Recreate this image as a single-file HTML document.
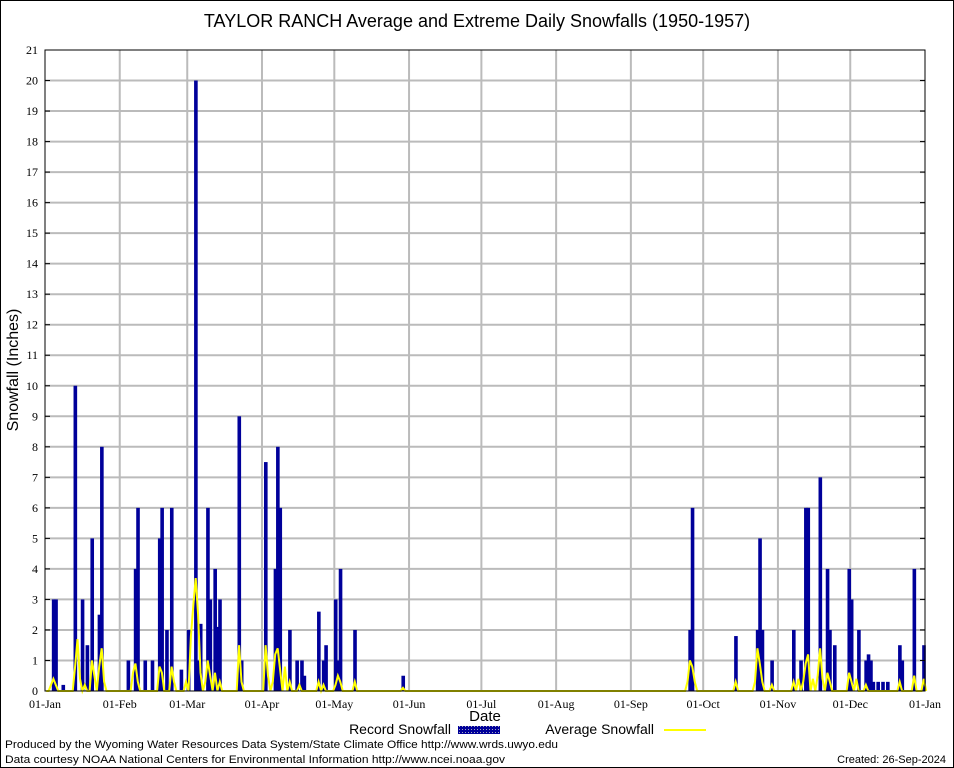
<!DOCTYPE html>
<html><head><meta charset="utf-8"><style>
body{margin:0;background:#fff}
svg{display:block;font-family:"Liberation Sans",sans-serif}
</style></head><body>
<svg id="c" width="954" height="768" viewBox="0 0 954 768">
<rect x="0.5" y="0.5" width="953" height="767" fill="#fff" stroke="#000"/>
<defs><pattern id="hat" width="3" height="3" patternUnits="userSpaceOnUse"><rect width="3" height="3" fill="#00009a"/><rect width="1" height="1" fill="#aab"/></pattern></defs>
<text x="477" y="27" font-size="18" text-anchor="middle">TAYLOR RANCH Average and Extreme Daily Snowfalls (1950-1957)</text>
<g id="grid"></g>
<g id="bars"></g>
<polyline id="avg" fill="none" stroke="#ffff00" stroke-width="2"/>
<rect x="45" y="50" width="880" height="641" fill="none" stroke="#000"/>
<g id="axes" font-family="Liberation Serif,serif" font-size="12"></g>
<text x="18" y="370" font-size="16" text-anchor="middle" transform="rotate(-90 18 370)">Snowfall (Inches)</text>
<text x="485" y="721" font-size="15" text-anchor="middle">Date</text>
<g>
<text x="451" y="734" font-size="14" text-anchor="end">Record Snowfall</text>
<rect x="458" y="726" width="42" height="8" fill="url(#hat)"/>
<text x="654" y="734" font-size="14" text-anchor="end">Average Snowfall</text>
<line x1="664" y1="730" x2="706" y2="730" stroke="#ffff00" stroke-width="2"/>
</g>
<text x="5" y="748" font-size="11" textLength="553" lengthAdjust="spacingAndGlyphs">Produced by the Wyoming Water Resources Data System/State Climate Office http://www.wrds.uwyo.edu</text>
<text x="5" y="763" font-size="11" textLength="500" lengthAdjust="spacingAndGlyphs">Data courtesy NOAA National Centers for Environmental Information http://www.ncei.noaa.gov</text>
<text x="946" y="763" font-size="11" text-anchor="end">Created: 26-Sep-2024</text>
</svg>
<script>
const monthLabels=["01-Jan","01-Feb","01-Mar","01-Apr","01-May","01-Jun","01-Jul","01-Aug","01-Sep","01-Oct","01-Nov","01-Dec","01-Jan"];
const monthDays=[0,31,59,90,120,151,181,212,243,273,304,334,365];
const yTicks=[0,1,2,3,4,5,6,7,8,9,10,11,12,13,14,15,16,17,18,19,20,21];
const recordDays=[3,4,7,12,15,17,19,22,23,34,37,38,41,44,47,48,50,52,56,59,62,63,64,67,68,70,71,72,80,81,91,95,96,97,101,104,106,107,113,115,116,120,121,122,128,148,267,268,286,295,296,297,301,310,313,315,316,321,324,325,327,333,334,337,340,341,342,343,345,347,349,354,355,360,364];
const recordVals=[3,3,0.2,10,3,1.5,5,2.5,8,1,4,6,1,1,5,6,2,6,0.7,2,20,1,2.2,6,3,4,2.1,3,9,1,7.5,4,8,6,2,1,1,0.5,2.6,1,1.5,3,1,4,2,0.5,2,6,1.8,2,5,2,1,2,1,6,6,7,4,2,1.5,4,3,2,1,1.2,1,0.3,0.3,0.3,0.3,1.5,1,4,1.5];
const avgDays=[2,3,4,12,13,14,16,19,20,22,23,24,36,37,38,47,48,52,53,58,60,61,62,63,64,66,67,68,70,72,80,81,91,92,94,95,96,97,99,101,105,113,115,120,121,122,128,148,266,267,268,269,286,294,295,296,297,301,310,312,314,315,316,318,320,321,322,324,325,333,334,336,340,354,360,364];
const avgVals=[0.2,0.4,0.2,0.8,1.7,0.4,0.2,1,0.5,0.8,1.4,0.3,0.6,0.9,0.3,0.8,0.6,0.8,0.3,0.3,1.8,2.8,3.7,2.5,0.6,0.3,1,0.5,0.6,0.3,1.5,0.3,1.5,0.5,0.3,1.2,1.4,0.7,0.8,0.3,0.2,0.3,0.2,0.2,0.5,0.3,0.3,0.1,0.3,1,0.8,0.3,0.3,0.3,1.4,0.9,0.3,0.2,0.3,0.4,0.3,0.9,1.2,0.4,0.5,1.4,0.4,0.6,0.3,0.6,0.3,0.4,0.2,0.3,0.5,0.4];
const X0=45,X1=925,Y0=691,Y1=50,YMAX=21;
const xs=d=>X0+d*(X1-X0)/365;
const ys=v=>Y0-v*(Y0-Y1)/YMAX;
const NS="http://www.w3.org/2000/svg";
function mk(t,a,p){const e=document.createElementNS(NS,t);for(const k in a)e.setAttribute(k,a[k]);p.appendChild(e);return e;}
const grid=document.getElementById('grid'),axes=document.getElementById('axes'),bars=document.getElementById('bars');
yTicks.forEach(v=>{
 if(v>0&&v<YMAX){const l=mk('line',{x1:X0,x2:X1,y1:ys(v),y2:ys(v),stroke:'#bbb','stroke-width':2},grid);
 
 }
 const t=mk('text',{x:X0-7,y:ys(v)+4,'text-anchor':'end'},axes);t.textContent=v;
 
 
 mk('line',{x1:X0,x2:X0+5,y1:ys(v),y2:ys(v),stroke:'#000'},axes);
 mk('line',{x1:X1-5,x2:X1,y1:ys(v),y2:ys(v),stroke:'#000'},axes);
});
monthDays.forEach((d,i)=>{
 if(i>0&&i<12){const l=mk('line',{x1:xs(d),x2:xs(d),y1:Y1,y2:Y0,stroke:'#bbb','stroke-width':2},grid);
 
 }
 const t=mk('text',{x:xs(d),y:Y0+17,'text-anchor':'middle'},axes);t.textContent=monthLabels[i];
 
 
});
const w=(X1-X0)/365;
recordDays.forEach((d,i)=>{
 const r=mk('rect',{x:xs(d)-0.4,y:ys(recordVals[i]),width:w+1.2,height:Y0-ys(recordVals[i]),fill:'#00009a'},bars);
 
 
});
const av=new Array(366).fill(0);avgDays.forEach((d,i)=>av[d]=avgVals[i]);
document.getElementById('avg').setAttribute('points',av.map((v,d)=>xs(d+0.5).toFixed(1)+','+ys(v).toFixed(1)).join(' '));
</script>
</body></html>
